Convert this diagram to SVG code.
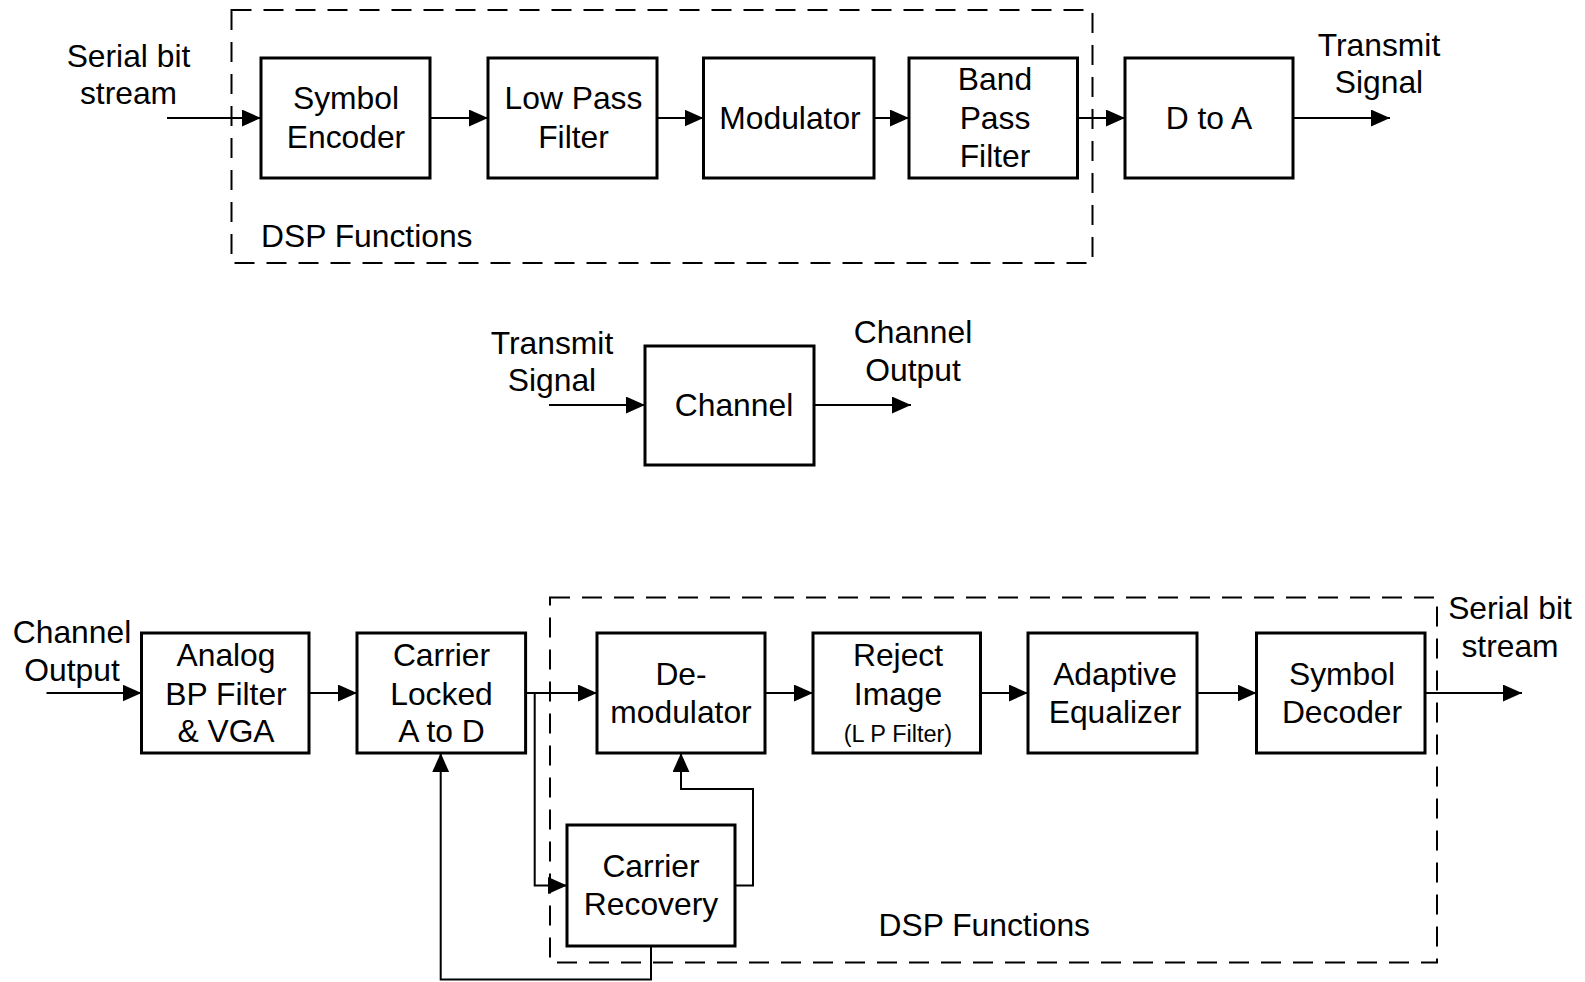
<svg xmlns="http://www.w3.org/2000/svg" width="1585" height="982" viewBox="0 0 1585 982">
<defs>
<marker id="ah" viewBox="0 0 18 16" markerWidth="19" markerHeight="17" refX="18" refY="8" orient="auto" markerUnits="userSpaceOnUse">
<path d="M0,0 L18,8 L0,16 z" fill="#000"/>
</marker>
<style>
.box{fill:#fff;stroke:#000;stroke-width:3}
.dash{fill:none;stroke:#000;stroke-width:2;stroke-dasharray:20 12}
.c{fill:none;stroke:#000;stroke-width:2;marker-end:url(#ah)}
text{font-family:"Liberation Sans",Arial,sans-serif;font-size:31.8px;fill:#000;text-anchor:middle}
.sm{font-size:23.5px}
.l{text-anchor:start}
</style>
</defs>
<rect width="1585" height="982" fill="#fff"/>

<g id="dsp-tx">
<rect class="dash" x="231.5" y="10" width="861" height="253"/>
<text class="l" x="261" y="247">DSP Functions</text>
</g>
<g id="dsp-rx">
<rect class="dash" x="550" y="597.5" width="887" height="365"/>
<text class="l" x="878.5" y="936">DSP Functions</text>
</g>

<g id="connectors">
<path class="c" d="M167,118 H261"/>
<path class="c" d="M430,118 H488"/>
<path class="c" d="M657,118 H703.5"/>
<path class="c" d="M874,118 H909"/>
<path class="c" d="M1077.5,118 H1125"/>
<path class="c" d="M1293,118 H1390"/>
<path class="c" d="M549,405 H645"/>
<path class="c" d="M814,405 H911"/>
<path class="c" d="M46.5,693 H141.5"/>
<path class="c" d="M309,693 H357"/>
<path class="c" d="M525.6,693 H597"/>
<path class="c" d="M765,693 H813"/>
<path class="c" d="M980.5,693 H1028"/>
<path class="c" d="M1197,693 H1256.5"/>
<path class="c" d="M1425,693 H1522"/>
<path class="c" d="M534.7,693 V885.5 H567"/>
<path class="c" d="M735,885.5 H753 V789 H681 V753"/>
<path class="c" d="M651,946 V979.5 H440.7 V753"/>
</g>

<g id="lbl-serial-in">
<text x="128.5" y="66.5">Serial bit</text>
<text x="128.5" y="104">stream</text>
</g>
<g id="lbl-transmit-out">
<text x="1379" y="55.5">Transmit</text>
<text x="1379" y="93">Signal</text>
</g>

<g id="symbol-encoder">
<rect class="box" x="261" y="58" width="169" height="120"/>
<text x="346" y="109">Symbol</text>
<text x="346" y="147.5">Encoder</text>
</g>
<g id="low-pass-filter">
<rect class="box" x="488" y="58" width="169" height="120"/>
<text x="573.5" y="109">Low Pass</text>
<text x="573.5" y="147.5">Filter</text>
</g>
<g id="modulator">
<rect class="box" x="703.5" y="58" width="170.5" height="120"/>
<text x="790" y="129">Modulator</text>
</g>
<g id="band-pass-filter">
<rect class="box" x="909" y="58" width="168.5" height="120"/>
<text x="995" y="90">Band</text>
<text x="995" y="128.5">Pass</text>
<text x="995" y="167">Filter</text>
</g>
<g id="d-to-a">
<rect class="box" x="1125" y="58" width="168" height="120"/>
<text x="1209" y="129">D to A</text>
</g>

<g id="lbl-transmit-in">
<text x="552" y="354">Transmit</text>
<text x="552" y="391">Signal</text>
</g>
<g id="channel">
<rect class="box" x="645" y="346" width="169" height="119"/>
<text x="734" y="415.5">Channel</text>
</g>
<g id="lbl-channel-out">
<text x="913" y="342.5">Channel</text>
<text x="913" y="381">Output</text>
</g>

<g id="lbl-channel-in">
<text x="72" y="643">Channel</text>
<text x="72" y="681">Output</text>
</g>
<g id="analog-bp">
<rect class="box" x="141.5" y="633" width="167.5" height="120"/>
<text x="226" y="666">Analog</text>
<text x="226" y="704.5">BP Filter</text>
<text x="226" y="742">&amp; VGA</text>
</g>
<g id="carrier-locked">
<rect class="box" x="357" y="633" width="168.6" height="120"/>
<text x="441.5" y="666">Carrier</text>
<text x="441.5" y="704.5">Locked</text>
<text x="441.5" y="742">A to D</text>
</g>
<g id="demodulator">
<rect class="box" x="597" y="633" width="168" height="120"/>
<text x="681" y="685">De-</text>
<text x="681" y="723">modulator</text>
</g>
<g id="reject-image">
<rect class="box" x="813" y="633" width="167.5" height="120"/>
<text x="898" y="666">Reject</text>
<text x="898" y="704.5">Image</text>
<text class="sm" x="898" y="742">(L P Filter)</text>
</g>
<g id="adaptive-equalizer">
<rect class="box" x="1028" y="633" width="169" height="120"/>
<text x="1115" y="685">Adaptive</text>
<text x="1115" y="723">Equalizer</text>
</g>
<g id="symbol-decoder">
<rect class="box" x="1256.5" y="633" width="168.5" height="120"/>
<text x="1342" y="685">Symbol</text>
<text x="1342" y="723">Decoder</text>
</g>
<g id="carrier-recovery">
<rect class="box" x="567" y="825" width="168" height="121"/>
<text x="651" y="876.5">Carrier</text>
<text x="651" y="915">Recovery</text>
</g>
<g id="lbl-serial-out">
<text x="1510" y="618.5">Serial bit</text>
<text x="1510" y="657">stream</text>
</g>
</svg>
